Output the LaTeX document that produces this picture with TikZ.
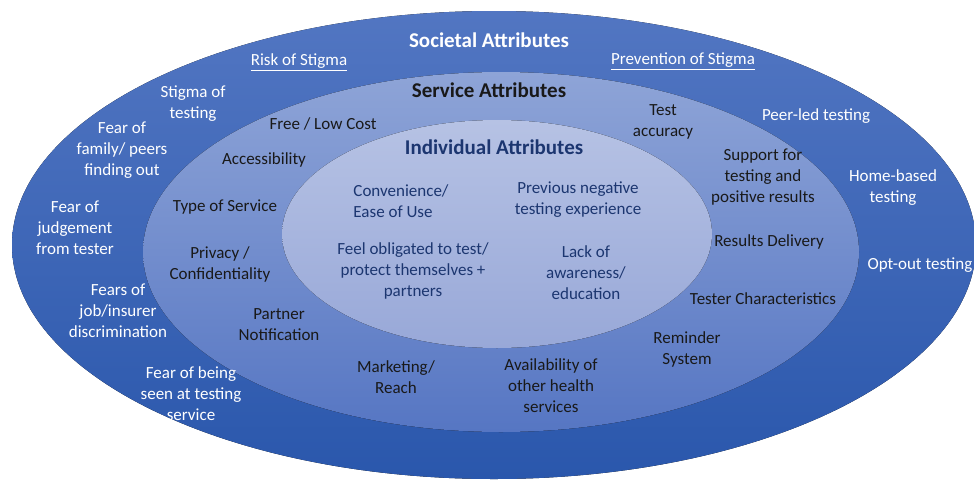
\documentclass[tikz,border=0pt]{standalone}
\usepackage{fontspec}
\setmainfont{Carlito}
\definecolor{outertop}{HTML}{5276C2}
\definecolor{outerbot}{HTML}{2A57AC}
\definecolor{midtop}{HTML}{8EA4D7}
\definecolor{midbot}{HTML}{5676C3}
\definecolor{innertop}{HTML}{B6C2E4}
\definecolor{innerbot}{HTML}{98A8D8}
\definecolor{navy}{HTML}{1C3670}
\begin{document}
\begin{tikzpicture}[x=1pt,y=-1pt]
      % Define styles for nodes
      \tikzstyle{societal} = [align=center, text=white, font=\fontsize{17}{21}\selectfont]
      \tikzstyle{service} = [align=center, text=black!90, font=\fontsize{17}{21}\selectfont]
      \tikzstyle{individual} = [align=center, text=navy, font=\fontsize{17}{21}\selectfont]
      \tikzstyle{heading} = [font=\fontsize{21}{24}\selectfont\bfseries]

      \useasboundingbox (0,0) rectangle (974,482);

      % Three nested ellipses
      \fill[top color=outertop, bottom color=outerbot] (494,245) ellipse [x radius=482pt, y radius=234pt];
      \fill[top color=midtop, bottom color=midbot] (501,252) ellipse [x radius=358pt, y radius=180pt];
      \fill[top color=innertop, bottom color=innerbot] (497,234) ellipse [x radius=215pt, y radius=114pt];

      % Headings
      \node[societal, heading] (soc) at (489,40) {Societal Attributes};
      \node[service, heading] (ser) at (489,90) {Service Attributes};
      \node[individual, heading] (ind) at (494,147) {Individual Attributes};

      % Societal attributes
      \node[societal] (risk) at (299,62) {\underline{Risk of Stigma}};
      \node[societal] (prev) at (683,61) {\underline{Prevention of Stigma}};
      \node[societal] (stig) at (193,104) {Stigma of\\testing};
      \node[societal] (fam) at (122,150) {Fear of\\family/ peers\\finding out};
      \node[societal] (judg) at (75,228) {Fear of\\judgement\\from tester};
      \node[societal] (job) at (118,311) {Fears of\\job/insurer\\discrimination};
      \node[societal] (seen) at (191,394) {Fear of being\\seen at testing\\service};
      \node[societal] (peer) at (816,116) {Peer-led testing};
      \node[societal] (home) at (893,188) {Home-based\\testing};
      \node[societal] (opt) at (920,265) {Opt-out testing};

      % Service attributes
      \node[service] (cost) at (323,124) {Free / Low Cost};
      \node[service] (acc) at (264,160) {Accessibility};
      \node[service] (type) at (225,207) {Type of Service};
      \node[service] (priv) at (220,264) {Privacy /\\Confidentiality};
      \node[service] (part) at (279,325) {Partner\\Notification};
      \node[service] (mark) at (396,377) {Marketing/\\Reach};
      \node[service] (avail) at (551,386) {Availability of\\other health\\services};
      \node[service] (remind) at (687,349) {Reminder\\System};
      \node[service] (tester) at (763,299) {Tester Characteristics};
      \node[service] (deliv) at (769,242) {Results Delivery};
      \node[service] (supp) at (763,177) {Support for\\testing and\\positive results};
      \node[service] (accur) at (663,122) {Test\\accuracy};

      % Individual attributes
      \node[individual, align=left] (conv) at (401,201) {Convenience/\\Ease of Use};
      \node[individual] (neg) at (578,200) {Previous negative\\testing experience};
      \node[individual] (obl) at (413,271) {Feel obligated to test/\\protect themselves +\\partners};
      \node[individual] (lack) at (586,273) {Lack of\\awareness/\\education};
    \end{tikzpicture}
\end{document}
